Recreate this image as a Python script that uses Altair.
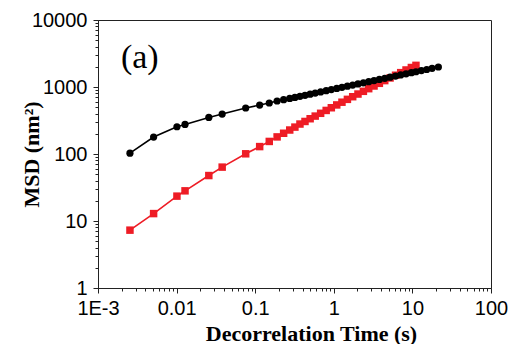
import altair as alt
import pandas as pd

# Decorrelation time (s) and MSD (nm^2)
t_black = [0.00255, 0.0051, 0.0101, 0.0128, 0.0257, 0.038, 0.0757, 0.114, 0.151, 0.19,
           0.23, 0.275, 0.32, 0.371, 0.43, 0.50, 0.58, 0.68, 0.80, 0.93,
           1.09, 1.27, 1.49, 1.74, 2.03, 2.38, 2.78, 3.25, 3.8, 4.45,
           5.2, 6.1, 7.1, 8.3, 9.7, 11.1, 13.0, 15.2, 17.8, 21.4]
msd_black = [103, 179, 255, 276, 351, 395, 486, 538, 577, 618,
             646, 676, 699, 725, 752, 781, 812, 845, 880, 915,
             952, 990, 1030, 1070, 1112, 1156, 1201, 1248, 1297, 1348,
             1401, 1458, 1513, 1573, 1634, 1690, 1756, 1825, 1897, 1988]

t_red = [0.00255, 0.0051, 0.0101, 0.0128, 0.0257, 0.038, 0.0757, 0.114, 0.151, 0.19,
         0.23, 0.275, 0.32, 0.371, 0.43, 0.50, 0.58, 0.68, 0.80, 0.93,
         1.09, 1.27, 1.49, 1.74, 2.03, 2.38, 2.78, 3.25, 3.8, 4.45,
         5.2, 6.1, 7.1, 8.3, 9.7, 11.1]
msd_red = [7.3, 12.9, 23.5, 28.2, 47.7, 63.7, 100.7, 129, 154, 180,
           204, 228, 252, 280, 306, 336, 368, 405, 447, 490,
           540, 593, 654, 716, 785, 862, 944, 1035, 1135, 1246,
           1365, 1499, 1638, 1795, 1954, 2104]

x_major = [0.001, 0.01, 0.1, 1, 10, 100]
y_major = [1, 10, 100, 1000, 10000]
x_minor = [m * d for d in [0.001, 0.01, 0.1, 1, 10] for m in range(2, 10)]
y_minor = [m * d for d in [1, 10, 100, 1000] for m in range(2, 10)]

panel_label = ["(a)"]
panel_label_t = [0.0034]
panel_label_msd = [2750]

black_df = pd.DataFrame({"t": t_black, "msd": msd_black})
red_df = pd.DataFrame({"t": t_red, "msd": msd_red})
label_df = pd.DataFrame({"t": panel_label_t, "msd": panel_label_msd, "txt": panel_label})

is_major = "abs(log(datum.value)/LN10 - round(log(datum.value)/LN10)) < 1e-6"

x_axis = alt.Axis(
    values=x_major + x_minor,
    labelExpr=f"({is_major}) ? (datum.value < 0.002 ? '1E-3' : format(datum.value, '~g')) : ''",
    tickSize={"condition": {"test": is_major, "value": 5}, "value": 3},
    tickColor="#222", domainColor="#222", tickWidth=1, domainWidth=1,
    labelFont="Liberation Sans", labelFontSize=20, labelColor="black",
    labelPadding=5, labelOverlap=False, labelFlush=False, grid=False,
    title="Decorrelation Time (s)", titleFont="Liberation Serif",
    titleFontWeight="bold", titleFontSize=22, titleColor="black",
    titleX=213, titleY=52, titleAlign="center", titleBaseline="alphabetic",
)
y_axis = alt.Axis(
    values=y_major + y_minor,
    labelExpr=f"({is_major}) ? format(datum.value, '~g') : ''",
    tickSize={"condition": {"test": is_major, "value": 5}, "value": 3},
    tickColor="#222", domainColor="#222", tickWidth=1, domainWidth=1,
    labelFont="Liberation Sans", labelFontSize=20, labelColor="black",
    labelPadding=6, labelOverlap=False, grid=False,
    title="MSD (nm²)", titleFont="Liberation Serif",
    titleFontWeight="bold", titleFontSize=22, titleColor="black",
    titleAngle=270, titleX=-60, titleY=134, titleAlign="center",
    titleBaseline="alphabetic",
)

xs = alt.Scale(type="log", domain=[0.001, 100])
ys = alt.Scale(type="log", domain=[1, 10000])

def series(df, color, shape, size):
    enc = dict(x=alt.X("t:Q", scale=xs, axis=x_axis), y=alt.Y("msd:Q", scale=ys, axis=y_axis))
    line = alt.Chart(df).mark_line(color=color, strokeWidth=1.6).encode(**enc)
    pts = alt.Chart(df).mark_point(color=color, filled=True, opacity=1, shape=shape, size=size).encode(**enc)
    return line + pts

red = series(red_df, "#ee1c25", "square", 56)
black = series(black_df, "black", "circle", 52)

label = alt.Chart(label_df).mark_text(
    font="Liberation Serif", fontSize=34, color="black", align="center", baseline="middle"
).encode(x=alt.X("t:Q", scale=xs, axis=x_axis), y=alt.Y("msd:Q", scale=ys, axis=y_axis), text="txt:N")

chart = alt.layer(red, black, label).properties(
    width=393, height=268,
    autosize=alt.AutoSizeParams(type="none"),
    padding={"left": 98, "top": 20, "right": 21, "bottom": 56},
).configure_view(stroke="#222", strokeWidth=1)

chart.save("out.html", embed_options={"renderer": "svg", "actions": False})
